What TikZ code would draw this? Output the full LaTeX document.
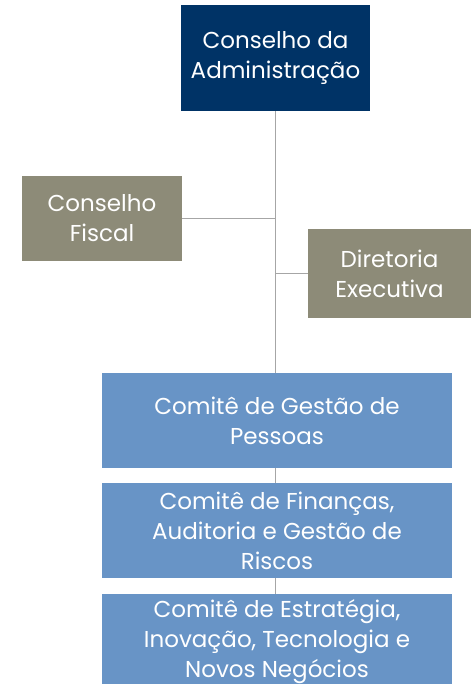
\documentclass[tikz,border=0pt]{standalone}
\usepackage{fontspec}
\setmainfont{Poppins}
\usetikzlibrary{positioning}
\definecolor{navy}{RGB}{0,51,102}
\definecolor{khaki}{RGB}{141,139,120}
\definecolor{steel}{RGB}{104,148,198}
\definecolor{linegray}{RGB}{166,166,166}
\tikzset{
    box/.style={rectangle, text=white, align=center, inner sep=0pt,
        font=\fontsize{23}{30}\selectfont},
    link/.style={draw=linegray, line width=1.6pt}
}
\begin{document}
\begin{tikzpicture}[x=1pt,y=-1pt]
    \useasboundingbox (0,0) rectangle (471,684);
    \node[box, fill=navy, minimum width=189pt, minimum height=106pt] (CA) at (275.5,58) {Conselho da\\Administração};
    \node[box, fill=khaki, minimum width=160pt, minimum height=85pt] (CF) at (102,218.5) {Conselho\\Fiscal};
    \node[box, fill=khaki, minimum width=163pt, minimum height=89pt] (DE) at (389.5,273.5) {Diretoria\\Executiva};
    \node[box, fill=steel, minimum width=350pt, minimum height=95pt] (C1) at (277,420.5) {Comitê de Gestão de\\Pessoas};
    \node[box, fill=steel, minimum width=350pt, minimum height=95pt] (C2) at (277,530.5) {Comitê de Finanças,\\Auditoria e Gestão de\\Riscos};
    \node[box, fill=steel, minimum width=350pt, minimum height=95pt] (C3) at (277,641.5) {Comitê de Estratégia,\\Inovação, Tecnologia e\\Novos Negócios};
    \coordinate (J1) at (CA.south |- CF.east);
    \coordinate (J2) at (CA.south |- DE.west);
    \draw[link] (CA.south) -- (CA.south |- C1.north);
    \draw[link] (CF.east) -- (J1);
    \draw[link] (DE.west) -- (J2);
    \draw[link] (C1.south -| CA.south) -- (C2.north -| CA.south);
    \draw[link] (C2.south -| CA.south) -- (C3.north -| CA.south);
\end{tikzpicture}
\end{document}
